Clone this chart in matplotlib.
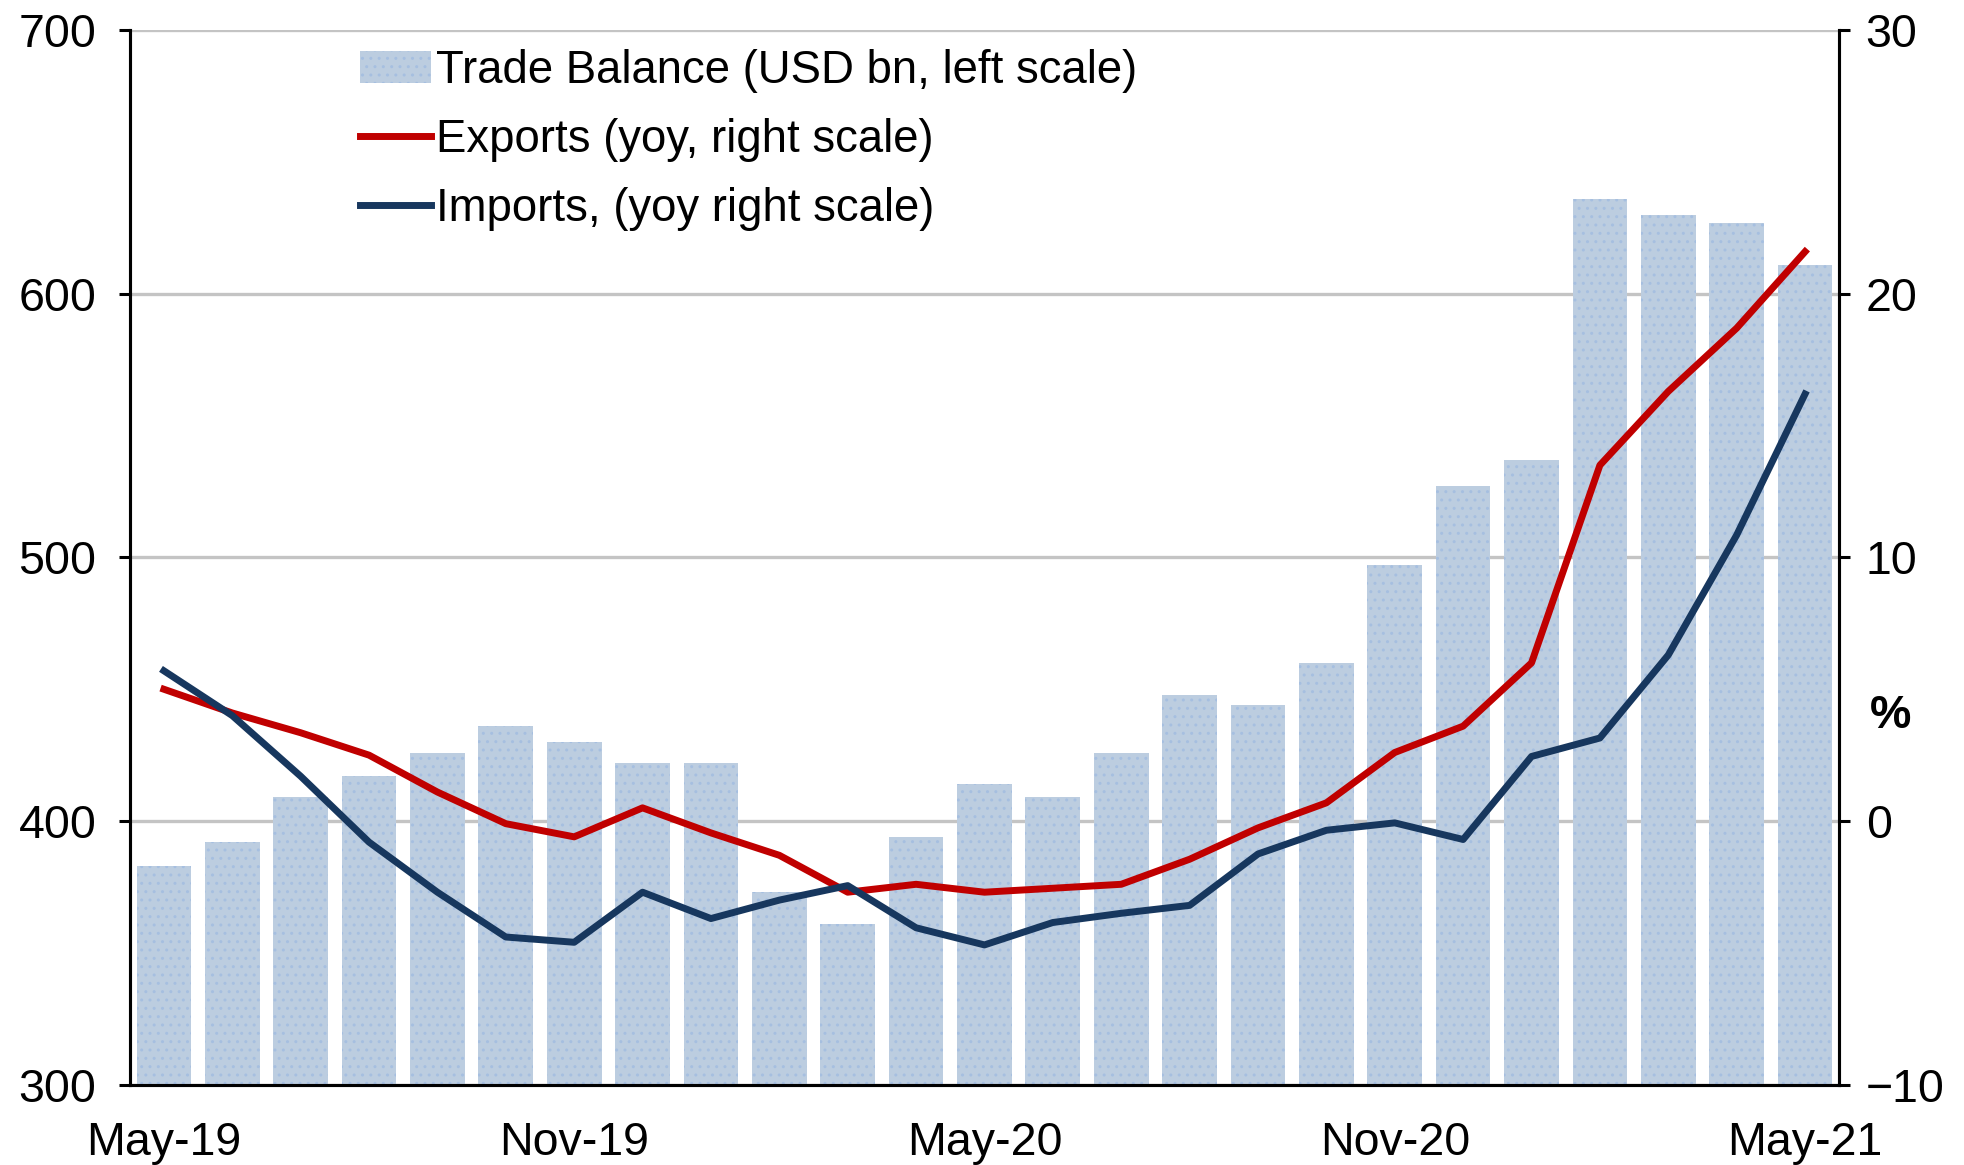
import matplotlib
matplotlib.use('Agg')
import matplotlib.pyplot as plt
from matplotlib import font_manager
from matplotlib.transforms import blended_transform_factory

# chart data
months = ['May-19', 'Jun-19', 'Jul-19', 'Aug-19', 'Sep-19', 'Oct-19', 'Nov-19',
          'Dec-19', 'Jan-20', 'Feb-20', 'Mar-20', 'Apr-20', 'May-20', 'Jun-20',
          'Jul-20', 'Aug-20', 'Sep-20', 'Oct-20', 'Nov-20', 'Dec-20', 'Jan-21',
          'Feb-21', 'Mar-21', 'Apr-21', 'May-21']
trade_balance = [383, 392, 409, 417, 426, 436, 430, 422, 422, 373, 361, 394, 414,
                 409, 426, 448, 444, 460, 497, 527, 537, 636, 630, 627, 611]
exports_yoy = [5.0, 4.1, 3.35, 2.5, 1.1, -0.1, -0.6, 0.5, -0.45, -1.3, -2.7, -2.4,
               -2.7, -2.55, -2.4, -1.45, -0.26, 0.69, 2.6, 3.6, 6.0, 13.5, 16.3,
               18.7, 21.6]
imports_yoy = [5.7, 4.0, 1.7, -0.8, -2.7, -4.4, -4.6, -2.7, -3.7, -3.0, -2.45,
               -4.05, -4.7, -3.85, -3.5, -3.2, -1.25, -0.35, -0.07, -0.7, 2.45,
               3.15, 6.3, 10.85, 16.2]
tick_labels = ['May-19', 'Nov-19', 'May-20', 'Nov-20', 'May-21']

installed = {f.name for f in font_manager.fontManager.ttflist}
if 'Liberation Sans Narrow' in installed:
    family, fsize, lsize = 'Liberation Sans Narrow', 37, 37
else:
    family, fsize, lsize = 'Liberation Sans', 33.5, 32.8
plt.rcParams['font.family'] = [family, 'DejaVu Sans']

fig = plt.figure(figsize=(19.65, 11.65), dpi=100)
ax = fig.add_axes([0.066, 0.069, 0.870, 0.905])
ax2 = ax.twinx()

x = list(range(len(months)))
bars = ax.bar(x, trade_balance, width=0.8, color='#bccde0', edgecolor='#a6bfe0',
              linewidth=0, hatch='..', label='Trade Balance (USD bn, left scale)',
              zorder=2)
l1, = ax2.plot(x, exports_yoy, color='#c00000', lw=5,
               label='Exports (yoy, right scale)')
l2, = ax2.plot(x, imports_yoy, color='#17375e', lw=5,
               label='Imports, (yoy right scale)')

ax.set_xlim(-0.5, len(months) - 0.5)
ax.set_ylim(300, 700)
ax.set_yticks([300, 400, 500, 600, 700])
ax2.set_ylim(-10, 30)
ax2.set_yticks([-10, 0, 10, 20, 30])

ax.set_axisbelow(True)
ax.yaxis.grid(True, color='#c4c4c4', lw=2.4)
ax.set_xticks([months.index(t) for t in tick_labels])
ax.set_xticklabels(tick_labels)

for a in (ax, ax2):
    a.spines['top'].set_visible(False)
    for s in ('left', 'right', 'bottom'):
        a.spines[s].set_linewidth(2.2)
    a.tick_params(axis='y', labelsize=fsize, length=8, width=2.2, pad=16)
ax2.tick_params(axis='y', pad=11)
ax.tick_params(axis='x', labelsize=fsize, length=0, pad=26)

trans = blended_transform_factory(ax2.transAxes, ax2.transData)
ax2.text(1.018, 4, '%', transform=trans, fontsize=fsize, fontweight='bold',
         ha='left', va='center')

ax.legend([bars, l1, l2], [bars.get_label(), l1.get_label(), l2.get_label()],
          loc='upper left', bbox_to_anchor=(0.124, 1.0), frameon=False,
          fontsize=lsize, handlelength=1.55, handletextpad=0.12, labelspacing=0.55,
          borderaxespad=0)

fig.savefig('out.png', dpi=100)
